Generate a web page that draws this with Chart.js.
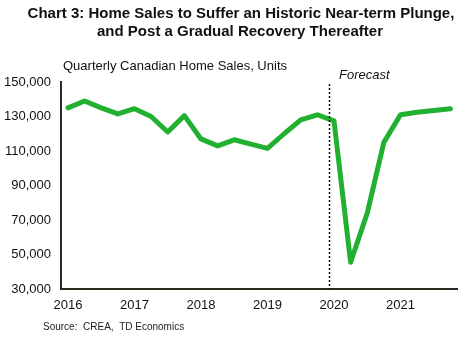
<!DOCTYPE html>
<html>
<head>
<meta charset="utf-8">
<script src="https://cdn.jsdelivr.net/npm/chart.js@4/dist/chart.umd.min.js"></script>
<style>
  html, body { margin: 0; padding: 0; background: #fff; }
  #wrap { width: 470px; height: 338px; position: relative; }
</style>
</head>
<body>
<div id="wrap"><canvas id="chart"></canvas></div>
<script>
// quarterly data, 2016Q1 - 2021Q4 (forecast from 2020Q1)
const quarters = [
  '2016Q1', '2016Q2', '2016Q3', '2016Q4',
  '2017Q1', '2017Q2', '2017Q3', '2017Q4',
  '2018Q1', '2018Q2', '2018Q3', '2018Q4',
  '2019Q1', '2019Q2', '2019Q3', '2019Q4',
  '2020Q1', '2020Q2', '2020Q3', '2020Q4',
  '2021Q1', '2021Q2', '2021Q3', '2021Q4'
];
const homeSales = [
  135000, 139000, 135000, 131500,
  134500, 130000, 121000, 130500,
  117000, 113000, 116500, 114000,
  111500, 120000, 128000, 131000,
  127500, 45500, 74000, 115000,
  131000, 132500, 133500, 134500
];
const yearLabels = ['2016', '2017', '2018', '2019', '2020', '2021'];
const forecastStart = 15.7; // dotted divider, in quarter index units

const points = homeSales.map((v, i) => ({ x: i, y: v }));

const textPlugin = {
  id: 'texts',
  afterDraw(chart) {
    const ctx = chart.ctx;
    const xs = chart.scales.x;
    const area = chart.chartArea;
    ctx.save();
    // forecast divider
    const fx = Math.round(xs.getPixelForValue(forecastStart)) + 0.5;
    ctx.strokeStyle = '#111';
    ctx.lineWidth = 1.5;
    ctx.setLineDash([2, 2]);
    ctx.beginPath();
    ctx.moveTo(fx, 84);
    ctx.lineTo(fx, area.bottom);
    ctx.stroke();
    ctx.setLineDash([]);

    ctx.fillStyle = '#111';
    ctx.textBaseline = 'middle';
    ctx.textAlign = 'center';
    ctx.font = 'bold 15px "Liberation Sans", Arial, sans-serif';
    ctx.fillText('Chart 3: Home Sales to Suffer an Historic Near-term Plunge,', 241, 14);
    ctx.fillText('and Post a Gradual Recovery Thereafter', 240, 32);

    ctx.textAlign = 'left';
    ctx.font = '13px "Liberation Sans", Arial, sans-serif';
    ctx.fillText('Quarterly Canadian Home Sales, Units', 63, 66);
    ctx.font = 'italic 13px "Liberation Sans", Arial, sans-serif';
    ctx.fillText('Forecast', 339, 75);
    ctx.font = '10px "Liberation Sans", Arial, sans-serif';
    ctx.fillStyle = '#222';
    ctx.fillText('Source:  CREA,  TD Economics', 43, 327);
    ctx.restore();
  }
};

new Chart(document.getElementById('chart'), {
  type: 'line',
  data: {
    datasets: [{
      label: 'Home sales',
      data: points,
      borderColor: '#22b030',
      borderWidth: 5,
      pointRadius: 0,
      tension: 0,
      borderJoinStyle: 'round',
      borderCapStyle: 'round',
      fill: false
    }]
  },
  options: {
    responsive: true,
    maintainAspectRatio: false,
    animation: false,
    layout: { padding: { left: 0, right: 13, top: 82, bottom: 0 } },
    plugins: {
      legend: { display: false },
      tooltip: { enabled: false }
    },
    scales: {
      x: {
        type: 'linear',
        min: -0.42,
        max: 23.4,
        afterFit: s => { s.height = 49; },
        afterBuildTicks: s => {
          s.ticks = yearLabels.map((y, i) => ({ value: i * 4 }));
        },
        ticks: {
          color: '#111',
          font: { size: 13, family: '"Liberation Sans", Arial, sans-serif' },
          padding: 9,
          maxRotation: 0,
          callback: v => yearLabels[v / 4]
        },
        grid: { display: false, drawTicks: false },
        border: { color: '#2b2b20', width: 2 }
      },
      y: {
        min: 30000,
        max: 150000,
        afterFit: s => { s.width = 61; },
        ticks: {
          stepSize: 20000,
          color: '#111',
          padding: 10,
          font: { size: 13, family: '"Liberation Sans", Arial, sans-serif' },
          callback: v => v.toLocaleString('en-US')
        },
        grid: { display: false, drawTicks: false },
        border: { color: '#2b2b20', width: 2 }
      }
    }
  },
  plugins: [textPlugin]
});
</script>
</body>
</html>
